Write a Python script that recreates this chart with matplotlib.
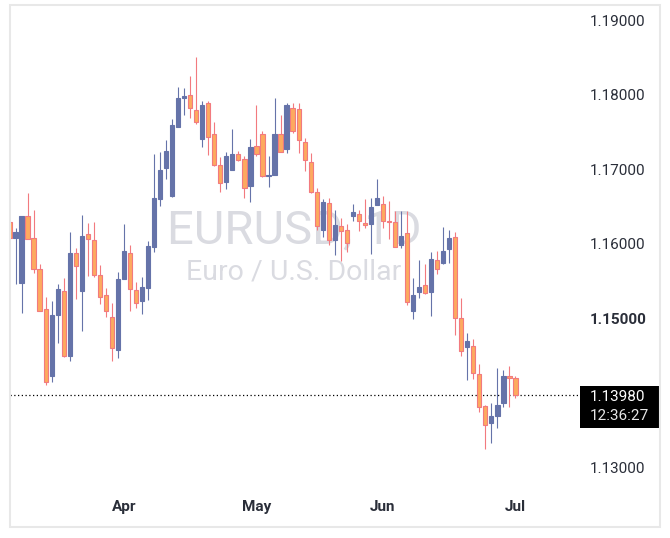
import numpy as np
import matplotlib
matplotlib.use("Agg")
import matplotlib.pyplot as plt
from matplotlib.patches import Rectangle
from matplotlib.transforms import blended_transform_factory

plt.rcParams['font.family'] = ['Roboto', 'DejaVu Sans']

# ---------------- data (daily EURUSD candles) ----------------
opens = [1.16295, 1.16079, 1.15476, 1.16369, 1.16079, 1.15660, 1.15127, 1.14230, 1.15044, 1.15375,
         1.14506, 1.15886, 1.15366, 1.16134, 1.16056, 1.15587, 1.15320, 1.15021, 1.14584, 1.15536,
         1.15886, 1.15384, 1.15237, 1.15412, 1.15955, 1.16599, 1.17013, 1.16645, 1.17565, 1.17956,
         1.17997, 1.17790, 1.17408, 1.17882, 1.17473, 1.17059, 1.16829, 1.16994, 1.17206, 1.17132,
         1.16774, 1.17307, 1.17473, 1.16912, 1.16921, 1.17468, 1.17270, 1.17822, 1.17809, 1.17367,
         1.17100, 1.16700, 1.16185, 1.16553, 1.16056, 1.16240, 1.16189, 1.16378, 1.16401, 1.16286,
         1.16263, 1.16525, 1.16534, 1.16309, 1.16295, 1.15987, 1.16148, 1.15099, 1.15352, 1.15449,
         1.15357, 1.15789, 1.15748, 1.15927, 1.16093, 1.15007, 1.14621, 1.14639, 1.14262, 1.13834,
         1.13609, 1.13701, 1.13871, 1.14230, 1.14207]
highs = [1.16295, 1.16217, 1.16378, 1.16677, 1.16461, 1.15734, 1.15292, 1.15237, 1.15467, 1.15550,
         1.16166, 1.15950, 1.16392, 1.16286, 1.16295, 1.15725, 1.15412, 1.15214, 1.15619, 1.16272,
         1.15992, 1.15495, 1.15559, 1.16042, 1.17211, 1.17238, 1.17399, 1.17671, 1.18108, 1.18089,
         1.18246, 1.18503, 1.17910, 1.17910, 1.17634, 1.17169, 1.17238, 1.17546, 1.17252, 1.17183,
         1.17408, 1.17855, 1.17514, 1.17174, 1.17960, 1.17726, 1.17882, 1.17882, 1.17882, 1.17413,
         1.17215, 1.16746, 1.16608, 1.16617, 1.16452, 1.16346, 1.16263, 1.16530, 1.16452, 1.16608,
         1.16622, 1.16866, 1.16645, 1.16576, 1.16447, 1.16447, 1.16447, 1.15550, 1.15780, 1.15734,
         1.15895, 1.15904, 1.16226, 1.16194, 1.16166, 1.15283, 1.14805, 1.14731, 1.14386, 1.13848,
         1.13871, 1.14345, 1.14308, 1.14368, 1.14230]
lows = [1.16079, 1.15458, 1.15081, 1.16070, 1.15610, 1.15104, 1.14115, 1.14156, 1.14676, 1.14492,
        1.14437, 1.15260, 1.14837, 1.15573, 1.15559, 1.15191, 1.15021, 1.14437, 1.14469, 1.15536,
        1.15099, 1.15145, 1.15067, 1.15246, 1.15895, 1.16507, 1.16875, 1.16626, 1.17565, 1.17726,
        1.17689, 1.17611, 1.17298, 1.17192, 1.17045, 1.16700, 1.16737, 1.16985, 1.17114, 1.16617,
        1.16562, 1.17183, 1.16893, 1.16769, 1.16921, 1.17229, 1.17220, 1.17491, 1.17220, 1.16976,
        1.16686, 1.16185, 1.16088, 1.15987, 1.15849, 1.15771, 1.15895, 1.16309, 1.16171, 1.16217,
        1.15863, 1.16525, 1.16217, 1.16070, 1.15955, 1.15941, 1.15182, 1.14998, 1.15274, 1.15329,
        1.15035, 1.15596, 1.15734, 1.15743, 1.14777, 1.14506, 1.14184, 1.14193, 1.13756, 1.13250,
        1.13328, 1.13540, 1.13811, 1.13811, 1.13940]
closes = [1.16079, 1.16166, 1.16369, 1.16070, 1.15660, 1.15104, 1.14156, 1.15053, 1.15398, 1.14506,
          1.15886, 1.15706, 1.16107, 1.16070, 1.15582, 1.15288, 1.15104, 1.14607, 1.15536, 1.15904,
          1.15398, 1.15210, 1.15426, 1.15978, 1.16617, 1.16985, 1.17252, 1.17588, 1.17960, 1.17988,
          1.17822, 1.17638, 1.17868, 1.17436, 1.17054, 1.16815, 1.17183, 1.17211, 1.17128, 1.16755,
          1.17303, 1.17201, 1.16912, 1.16930, 1.17477, 1.17238, 1.17855, 1.17514, 1.17395, 1.17128,
          1.16700, 1.16240, 1.16567, 1.16056, 1.16258, 1.16176, 1.16019, 1.16429, 1.16309, 1.16254,
          1.16498, 1.16622, 1.16309, 1.16300, 1.15964, 1.16111, 1.15228, 1.15320, 1.15430, 1.15343,
          1.15794, 1.15665, 1.15900, 1.16084, 1.15007, 1.14561, 1.14699, 1.14271, 1.13811, 1.13572,
          1.13701, 1.13848, 1.14230, 1.14202, 1.13980]

month_ticks = [19, 41, 62, 84]
month_labels = ["Apr", "May", "Jun", "Jul"]
price_ticks = [1.13, 1.15, 1.16, 1.17, 1.18, 1.19]
symbol = "EURUSD, 1D"
description = "Euro / U.S. Dollar"
countdown = "12:36:27"

# ---------------- styling ----------------
UP_FILL = "#6573a9"
DN_FILL = "#fdaa5f"
DN_EDGE = "#f27a7f"
TEXT = "#2a2e39"

W, H = 670, 538
fig = plt.figure(figsize=(W / 100, H / 100), dpi=100)
fig.patch.set_facecolor("white")
ax_l, ax_r, ax_t, ax_b = 10, 578, 5, 490
ax = fig.add_axes([ax_l / W, (H - ax_b) / H, (ax_r - ax_l) / W, (ax_b - ax_t) / H])

o = np.array(opens); h = np.array(highs); l = np.array(lows); c = np.array(closes)
x = np.arange(len(o))
up = c > o
fill = np.where(up, UP_FILL, DN_FILL)
edge = np.where(up, UP_FILL, DN_EDGE)

ax.vlines(x, l, h, colors=edge, linewidth=0.8, zorder=2)
ax.bar(x, np.abs(c - o), bottom=np.minimum(o, c), width=0.7, color=fill,
       edgecolor=edge, linewidth=0.8, zorder=3)

ax.set_xlim(0.086, 94.38)
ax.set_ylim(1.12705, 1.19201)

for s in ax.spines.values():
    s.set_visible(False)

ax.yaxis.tick_right()
ax.set_yticks(price_ticks)
ax.set_yticklabels([f"{v:.5f}" for v in price_ticks])
ax.tick_params(axis="y", length=0, pad=8.6, labelsize=11, labelcolor=TEXT)
for lab, v in zip(ax.get_yticklabels(), price_ticks):
    if abs(v - 1.15) < 1e-9:
        lab.set_fontweight("bold")
ax.set_xticks(month_ticks)
ax.set_xticklabels(month_labels)
ax.tick_params(axis="x", length=0, pad=7.5, labelsize=11, labelcolor=TEXT)
for lab in ax.get_xticklabels():
    lab.set_fontweight("bold")

# watermark
ax.text(0.5, 0.509, symbol, transform=ax.transAxes, ha="center", va="baseline",
        fontsize=34, color="#dadbe1", zorder=0)
ax.text(0.5, 0.433, description, transform=ax.transAxes, ha="center", va="baseline",
        fontsize=20.5, color="#dadbe1", zorder=0)

# last price line and label
last = closes[-1]
ax.axhline(last, color="black", linewidth=0.9, linestyle=(0, (1, 2)), zorder=1)
px_per_unit = (ax_b - ax_t) / (1.19201 - 1.12705)
bt = blended_transform_factory(fig.transFigure, ax.transData)
box = Rectangle((580 / W, last - 33 / px_per_unit), 79 / W, 42 / px_per_unit,
                transform=bt, facecolor="black", edgecolor="none", clip_on=False, zorder=5)
ax.add_patch(box)
ax.annotate(f"{last:.5f}", xy=(590 / W, last), xycoords=bt, xytext=(0, -2),
            textcoords="offset pixels", ha="left", va="center", color="white",
            fontsize=11, annotation_clip=False, zorder=6)
ax.annotate(countdown, xy=(590 / W, last), xycoords=bt, xytext=(0, -21),
            textcoords="offset pixels", ha="left", va="center", color="#e6e6e6",
            fontsize=11, annotation_clip=False, zorder=6)

# outer frame
fig.patches.append(Rectangle((10 / W, (H - 527) / H), 650 / W, 522 / H, transform=fig.transFigure,
                             fill=False, edgecolor="#e8e8e8", linewidth=1.5))

fig.savefig("out.png", dpi=100, facecolor="white")
